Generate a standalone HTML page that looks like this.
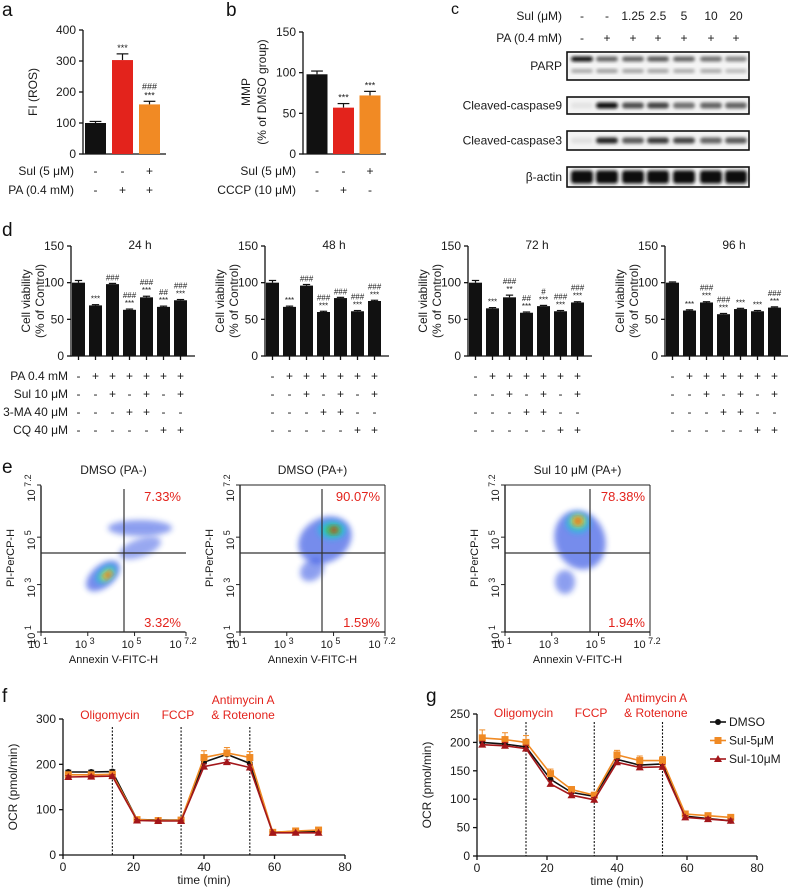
<!DOCTYPE html>
<html><head><meta charset="utf-8"><style>
html,body{margin:0;padding:0;background:#fff}
svg{display:block;font-family:"Liberation Sans",Arial,sans-serif}
</style></head><body>
<svg id="fig" width="788" height="891" viewBox="0 0 788 891" xmlns="http://www.w3.org/2000/svg">
<defs>
<filter id="blurB" x="-50%" y="-50%" width="200%" height="200%"><feGaussianBlur stdDeviation="1.6"/></filter>
<filter id="blurF" x="-50%" y="-50%" width="200%" height="200%"><feGaussianBlur stdDeviation="3"/></filter>
</defs>
</svg>
<script>
// ---------- data ----------
const aCats=['Control','PA','PA+Sul'];
const aVals=[100,303,160];
const aErr=[5,20,10];
const aSul=['-','-','+'];
const aPA=['-','+','+'];
const aMarks=[[],['***'],['###','***']];
const aTicks=[0,100,200,300,400];

const bCats=['DMSO','CCCP','Sul'];
const bVals=[98,57,72];
const bErr=[4,5,5];
const bSul=['-','-','+'];
const bCCCP=['-','+','-'];
const bMarks=[[],['***'],['***']];
const bTicks=[0,50,100,150];

const cSul=['-','-','1.25','2.5','5','10','20'];
const cPA=['-','+','+','+','+','+','+'];
const cPARP=[1,0.6,0.6,0.65,0.6,0.55,0.45];
const cPARPlow=[0.3,0.35,0.33,0.33,0.3,0.3,0.22];
const cCasp9=[0.03,1,0.7,0.75,0.55,0.6,0.6];
const cCasp3=[0.05,0.9,0.65,0.8,0.75,0.6,0.65];
const cActin=[1,1,1,1,1,1,1];

const dTitles=['24 h','48 h','72 h','96 h'];
const dVals24=[100,69,98,63,80,67,76];
const dVals48=[100,67,96,60,79,61,75];
const dVals72=[100,65,80,59,68,61,73];
const dVals96=[100,62,73,57,64,61,66];
const dErr24=[3,1,1,1,1.5,1,1];
const dErr48=[3,1,1.5,1,1,1,1];
const dErr72=[3,1,3,1,1,1,1];
const dErr96=[1,1,1,1,1,1,1];
const dMarks24=[[],['***'],['###'],['###','***'],['###','***'],['##','***'],['###','***']];
const dMarks48=[[],['***'],['###'],['###','***'],['###'],['###','***'],['###','***']];
const dMarks72=[[],['***'],['###','**'],['##','***'],['#','***'],['###','***'],['###','***']];
const dMarks96=[[],['***'],['###','***'],['###','***'],['***'],['***'],['###','***']];
const dPA=['-','+','+','+','+','+','+'];
const dSul=['-','-','+','-','+','-','+'];
const d3MA=['-','-','-','+','+','-','-'];
const dCQ=['-','-','-','-','-','+','+'];
const dTicks=[0,50,100,150];

const eTitles=['DMSO (PA-)','DMSO (PA+)','Sul 10 μM (PA+)'];
const eUpper=['7.33%','90.07%','78.38%'];
const eLower=['3.32%','1.59%','1.94%'];

const ocrTime=[1.5,8,14,21,27,33.5,40,46.5,53,59.5,66,72.5];
const fDMSO=[183,183,184,78,77,77,205,222,202,50,52,52];
const fSul5=[177,177,178,78,76,77,215,225,215,50,53,55];
const fSul10=[172,173,174,76,75,75,195,205,193,49,49,49];
const fErrDMSO=[4,4,4,3,3,3,8,8,8,2,2,2];
const fErrSul5=[4,4,5,3,3,3,15,12,13,2,2,2];
const fErrSul10=[3,3,3,2,2,2,6,5,6,2,2,2];
const gDMSO=[200,197,192,135,112,105,170,160,162,70,66,62];
const gSul5=[208,205,200,145,117,107,178,168,168,74,71,68];
const gSul10=[196,194,189,127,107,99,165,156,157,68,65,62];
const gErrDMSO=[8,8,8,6,4,4,6,5,5,3,3,3];
const gErrSul5=[14,12,12,8,5,5,8,8,7,3,3,3];
const gErrSul10=[6,6,6,5,4,4,5,4,4,3,3,3];
const fTicksY=[0,100,200,300];
const gTicksY=[0,50,100,150,200,250];
const ocrTicksX=[0,20,40,60,80];
const ocrInjections=[14,33.5,53];
const ocrSeriesNames=['DMSO','Sul-5μM','Sul-10μM'];

// ---------- helpers ----------
const NS='http://www.w3.org/2000/svg';
const svg=document.getElementById('fig');
function mk(tag,attrs,parent,name){
  const e=document.createElementNS(NS,tag);
  for(const k in attrs)e.setAttribute(k,attrs[k]);
  
  
  (parent||svg).appendChild(e);return e;
}
function txt(x,y,s,size,anchor,fill,parent,name,rot){
  const e=mk('text',{x:x,y:y,'font-size':size,'text-anchor':anchor||'start',fill:fill||'#1a1a1a'},parent,name);
  if(rot)e.setAttribute('transform','rotate(-90 '+x+' '+y+')');
  e.textContent=s;return e;
}
function grp(name){const g=mk('g',{},svg,name);return g;}
function line(x1,y1,x2,y2,parent,name,stroke,w,dash){
  const a={x1:x1,y1:y1,x2:x2,y2:y2,stroke:stroke||'#111','stroke-width':w||1.3};
  if(dash)a['stroke-dasharray']=dash;
  return mk('line',a,parent,name);
}
function yAxis(g,x,scale,ticks,fs,name){
  line(x,scale(ticks[0])+0.6,x,scale(ticks[ticks.length-1]),g,name+'-line');
  ticks.forEach(t=>{
    line(x-4,scale(t),x,scale(t),g,name+'-tick');
    txt(x-7,scale(t)+4,String(t),fs,'end','#1a1a1a',g,name+'-tick-label');
  });
}

// ---------- bar chart generic ----------
function barChart(g,cfg){
  const sy=v=>cfg.y0-(v/cfg.vmax)*cfg.h;
  yAxis(g,cfg.ax,sy,cfg.ticks,cfg.fs,'y-axis');
  line(cfg.ax,cfg.y0,cfg.axEnd,cfg.y0,g,'x-axis-line');
  cfg.vals.forEach((v,i)=>{
    const cx=cfg.x0+cfg.slot*i;
    const col=cfg.colors[i%cfg.colors.length];
    const top=sy(v), et=sy(v+cfg.err[i]);
    line(cx,top,cx,et,g,'error-bar','#111',1.2);
    line(cx-cfg.bw*0.28,et,cx+cfg.bw*0.28,et,g,'error-cap','#111',1.2);
    mk('rect',{x:cx-cfg.bw/2,y:top,width:cfg.bw,height:cfg.y0-top,fill:col},g,'bar-'+(cfg.cats?cfg.cats[i]:i));
    if(cfg.tickX)line(cx,cfg.y0,cx,cfg.y0+4,g,'x-tick');
    const m=cfg.marks[i];
    for(let k=0;k<m.length;k++){
      txt(cx,et-3-(m.length-1-k)*cfg.ms,m[k],cfg.mfs,'middle','#1a1a1a',g,'significance-mark');
    }
  });
  cfg.rows.forEach((r,ri)=>{
    if(r.label)txt(cfg.labelX,r.y,r.label,cfg.fs,'end','#1a1a1a',g,'condition-label');
    r.vals.forEach((s,i)=>txt(cfg.x0+cfg.slot*i,r.y,s==='-'?'-':'+',cfg.fs,'middle','#1a1a1a',g,'condition-sign'));
  });
}

// panel letters
[['a',2,16],['b',226,16],['c',451,14],['d',2,236],['e',2,473],['f',2,702],['g',426,702]].forEach(p=>{
  txt(p[1],p[2],p[0],p[0]==='c'?16:19,'start','#111',svg,'panel-letter-'+p[0]);
});

// ---------- panel a ----------
const ga=grp('panel-a-ros-chart');
barChart(ga,{ax:83,axEnd:166,y0:154,h:124,vmax:400,ticks:aTicks,fs:12,vals:aVals,err:aErr,cats:aCats,
  x0:95.5,slot:27,bw:21,colors:['#111','#e3231c','#f18a24'],marks:aMarks,ms:9,mfs:9,labelX:74,
  rows:[{label:'Sul (5 μM)',y:175,vals:aSul},{label:'PA (0.4 mM)',y:194,vals:aPA}]});
txt(37,92,'FI (ROS)',12,'middle','#1a1a1a',ga,'y-axis-title',true);

// ---------- panel b ----------
const gb=grp('panel-b-mmp-chart');
barChart(gb,{ax:303,axEnd:386,y0:154,h:122,vmax:150,ticks:bTicks,fs:12,vals:bVals,err:bErr,cats:bCats,
  x0:317,slot:26.5,bw:21,colors:['#111','#e3231c','#f18a24'],marks:bMarks,ms:9,mfs:9,labelX:296,
  rows:[{label:'Sul (5 μM)',y:175,vals:bSul},{label:'CCCP (10 μM)',y:194,vals:bCCCP}]});
txt(250,92,'MMP',12,'middle','#1a1a1a',gb,'y-axis-title',true);
txt(266,92,'(% of DMSO group)',12,'middle','#1a1a1a',gb,'y-axis-title',true);

// ---------- panel c ----------
const gc=grp('panel-c-western-blot');
const laneX=[582,607,633,658,684,711,736];
txt(562,20,'Sul (μM)',12,'end','#1a1a1a',gc,'sul-row-label');
txt(562,42,'PA (0.4 mM)',12,'end','#1a1a1a',gc,'pa-row-label');
cSul.forEach((s,i)=>txt(laneX[i],20,s,12,'middle','#1a1a1a',gc,'sul-dose'));
cPA.forEach((s,i)=>txt(laneX[i],42,s,12,'middle','#1a1a1a',gc,'pa-sign'));
function blot(y,h,name,label,bands){
  const b=mk('g',{},gc,'blot-'+name);
  mk('rect',{x:567,y:y,width:182,height:h,fill:'#f4f4f4',stroke:'#111','stroke-width':1.6},b,'blot-frame');
  bands.forEach(bd=>{
    bd.vals.forEach((v,i)=>{
      const c=Math.round(235-v*225);
      mk('rect',{x:laneX[i]-11,y:y+bd.dy-bd.h/2,width:22,height:bd.h,rx:3,fill:'rgb('+c+','+c+','+c+')',filter:'url(#blurB)'},b,'band');
    });
  });
  txt(562,y+h/2+4,label,12,'end','#1a1a1a',gc,'blot-label');
}
blot(52,28,'parp','PARP',[{vals:cPARP,dy:7,h:5},{vals:cPARPlow,dy:19,h:4}]);
blot(97,17,'caspase9','Cleaved-caspase9',[{vals:cCasp9,dy:8.5,h:6}]);
blot(131,19,'caspase3','Cleaved-caspase3',[{vals:cCasp3,dy:9.5,h:6}]);
blot(167,20,'actin','β-actin',[{vals:cActin,dy:10,h:13}]);

// ---------- panel d ----------
const dSets=[[dVals24,dErr24,dMarks24],[dVals48,dErr48,dMarks48],[dVals72,dErr72,dMarks72],[dVals96,dErr96,dMarks96]];
const dAx=[71,265,468,665];
dSets.forEach((s,p)=>{
  const g=grp('panel-d-viability-'+dTitles[p].replace(' ',''));
  barChart(g,{ax:dAx[p],axEnd:dAx[p]+124,y0:356,h:110,vmax:150,ticks:dTicks,fs:12,vals:s[0],err:s[1],
    x0:dAx[p]+7.5,slot:17,bw:13,colors:['#111'],marks:s[2],ms:8,mfs:8,labelX:68,tickX:true,
    rows:[{label:p===0?'PA 0.4 mM':'',y:380,vals:dPA},{label:p===0?'Sul 10 μM':'',y:398,vals:dSul},
          {label:p===0?'3-MA 40 μM':'',y:416,vals:d3MA},{label:p===0?'CQ 40 μM':'',y:434,vals:dCQ}]});
  txt(dAx[p]+69,249,dTitles[p],12,'middle','#1a1a1a',g,'chart-title');
  txt(dAx[p]-41,301,'Cell viability',12,'middle','#1a1a1a',g,'y-axis-title',true);
  txt(dAx[p]-27,301,'(% of Control)',12,'middle','#1a1a1a',g,'y-axis-title',true);
});

// ---------- panel e ----------
const eBoxes=[{x:41,cx:124},{x:240,cx:322},{x:505,cx:590}];
const eClouds=[
  [{x:103,y:576,rx:20,ry:11,rot:-40,c:'#1f3fe0',o:0.6},{x:140,y:528,rx:32,ry:8,rot:0,c:'#1f3fe0',o:0.5},{x:140,y:548,rx:22,ry:9,rot:-20,c:'#1f3fe0',o:0.45},
   {x:106,y:574,rx:12,ry:7,rot:-40,c:'#22c0e0',o:0.8},{x:107,y:575,rx:7,ry:4,rot:-40,c:'#f0e020',o:0.9},{x:108,y:575,rx:3,ry:2,rot:-40,c:'#e02020',o:1}],
  [{x:325,y:540,rx:28,ry:22,rot:-30,c:'#1f3fe0',o:0.6},{x:312,y:570,rx:13,ry:10,rot:-40,c:'#1f3fe0',o:0.5},
   {x:332,y:530,rx:14,ry:9,rot:0,c:'#22c0e0',o:0.8},{x:333,y:530,rx:8,ry:5,rot:0,c:'#40d040',o:0.9},{x:334,y:530,rx:4,ry:3,rot:0,c:'#e02020',o:1}],
  [{x:580,y:540,rx:25,ry:30,rot:-20,c:'#1f3fe0',o:0.6},{x:565,y:582,rx:10,ry:12,rot:0,c:'#1f3fe0',o:0.5},
   {x:578,y:523,rx:12,ry:10,rot:0,c:'#22c0e0',o:0.8},{x:578,y:521,rx:7,ry:6,rot:0,c:'#f0e020',o:0.9},{x:578,y:521,rx:3,ry:3,rot:0,c:'#e02020',o:1}]
];
eBoxes.forEach((b,p)=>{
  const g=grp('panel-e-flow-plot-'+(p+1));
  const W=145,top=485,bot=632,cy=553;
  eClouds[p].forEach(c=>mk('ellipse',{cx:c.x,cy:c.y,rx:c.rx,ry:c.ry,fill:c.c,opacity:c.o,filter:'url(#blurF)',transform:'rotate('+c.rot+' '+c.x+' '+c.y+')'},g,'cell-density'));
  line(b.x,top,b.x,bot,g,'y-axis-line');
  line(b.x,bot,b.x+W,bot,g,'x-axis-line');
  line(b.x,top,b.x+W,top,g,'frame',p===0?'#fff':'#222',1);
  line(b.x+W,top,b.x+W,bot,g,'frame',p===0?'#fff':'#222',1);
  line(b.cx,top+4,b.cx,bot,g,'quadrant-vertical','#333',1.2);
  line(b.x,cy,b.x+W,cy,g,'quadrant-horizontal','#333',1.2);
  const xl=[['1',0],['3',2/6.2],['5',4/6.2],['7.2',1]];
  xl.forEach(t=>{
    const xx=b.x+W*t[1];
    line(xx,bot,xx,bot+4,g,'x-tick','#222',1);
    const e=txt(xx-3,648,'10',11,'middle','#1a1a1a',g,'x-tick-label');
    const ts=mk('tspan',{dy:-4,'font-size':9},e,'exponent');ts.textContent=' '+t[0];
    const yy=bot-(bot-top)*t[1];
    line(b.x-4,yy,b.x,yy,g,'y-tick','#222',1);
    const e2=txt(b.x-6,yy+3,'10',11,'middle','#1a1a1a',g,'y-tick-label',true);
    const ts2=mk('tspan',{dy:-4,'font-size':9},e2,'exponent');ts2.textContent=' '+t[0];
  });
  txt(b.x+W/2,474,eTitles[p],12,'middle','#1a1a1a',g,'plot-title');
  txt(b.x+W-5,501,eUpper[p],13,'end','#e3231c',g,'upper-right-percent');
  txt(b.x+W-5,627,eLower[p],13,'end','#e3231c',g,'lower-right-percent');
  txt(b.x+W/2,663,'Annexin V-FITC-H',11,'middle','#1a1a1a',g,'x-axis-title');
  txt(b.x-27,558,'PI-PerCP-H',11,'middle','#1a1a1a',g,'y-axis-title',true);
});

// ---------- panels f, g ----------
const ocrColors=['#111','#f08a24','#a3161a'];
function marker(g,type,x,y,col){
  if(type===0)mk('circle',{cx:x,cy:y,r:3,fill:col},g,'point-dmso');
  else if(type===1)mk('rect',{x:x-3.5,y:y-3.5,width:7,height:7,fill:col},g,'point-sul-5um');
  else mk('path',{d:'M'+x+' '+(y-4)+'L'+(x+4)+' '+(y+3)+'L'+(x-4)+' '+(y+3)+'Z',fill:col},g,'point-sul-10um');
}
function ocrChart(name,ax,axEnd,y0,h,vmax,ticksY,series,errs,lbl){
  const g=grp(name);
  const sx=t=>ax+t/80*(axEnd-ax);
  const sy=v=>y0-v/vmax*h;
  yAxis(g,ax,sy,ticksY,12,'y-axis');
  line(ax,y0,axEnd,y0,g,'x-axis-line');
  ocrTicksX.forEach(t=>{line(sx(t),y0,sx(t),y0+4,g,'x-tick');txt(sx(t),y0+16,String(t),12,'middle','#1a1a1a',g,'x-tick-label');});
  txt((ax+axEnd)/2,y0+29,'time (min)',12,'middle','#1a1a1a',g,'x-axis-title');
  txt(ax-46,y0-h/2,'OCR (pmol/min)',12,'middle','#1a1a1a',g,'y-axis-title',true);
  ocrInjections.forEach(t=>line(sx(t),lbl.dashTop,sx(t),y0,g,'injection-line','#111',1.1,'2,1.5'));
  txt(sx(13.3),lbl.base,'Oligomycin',12,'middle','#e3231c',g,'oligomycin-label');
  txt(sx(32.6),lbl.base,'FCCP',12,'middle','#e3231c',g,'fccp-label');
  txt(sx(51.1),lbl.base-15,'Antimycin A',12,'middle','#e3231c',g,'antimycin-label');
  txt(sx(51.1),lbl.base,'& Rotenone',12,'middle','#e3231c',g,'rotenone-label');
  series.forEach((s,k)=>{
    const sg=mk('g',{},g,'series-'+ocrSeriesNames[k]);
    s.forEach((v,i)=>{
      const x=sx(ocrTime[i]);
      line(x,sy(v),x,sy(v+errs[k][i]),sg,'error-bar',ocrColors[k],1);
      line(x-3,sy(v+errs[k][i]),x+3,sy(v+errs[k][i]),sg,'error-cap',ocrColors[k],1);
    });
    const d=s.map((v,i)=>(i?'L':'M')+sx(ocrTime[i]).toFixed(1)+' '+sy(v).toFixed(1)).join('');
    mk('path',{d:d,fill:'none',stroke:ocrColors[k],'stroke-width':1.6},sg,'series-line');
    s.forEach((v,i)=>marker(sg,k,sx(ocrTime[i]),sy(v),ocrColors[k]));
  });
  return g;
}
ocrChart('panel-f-ocr-chart',63,345,855,136,300,fTicksY,[fDMSO,fSul5,fSul10],[fErrDMSO,fErrSul5,fErrSul10],{base:719,dashTop:727});
const gg=ocrChart('panel-g-ocr-chart',477,757,856,142,250,gTicksY,[gDMSO,gSul5,gSul10],[gErrDMSO,gErrSul5,gErrSul10],{base:717,dashTop:722});
ocrSeriesNames.forEach((n,k)=>{
  const y=722+18.5*k;
  const lg=mk('g',{},gg,'legend-entry');
  line(710,y,726,y,lg,'legend-line',ocrColors[k],1.6);
  marker(lg,k,718,y,ocrColors[k]);
  txt(729,y+4,n,12,'start','#1a1a1a',lg,'legend-label');
});
</script>
</body></html>
